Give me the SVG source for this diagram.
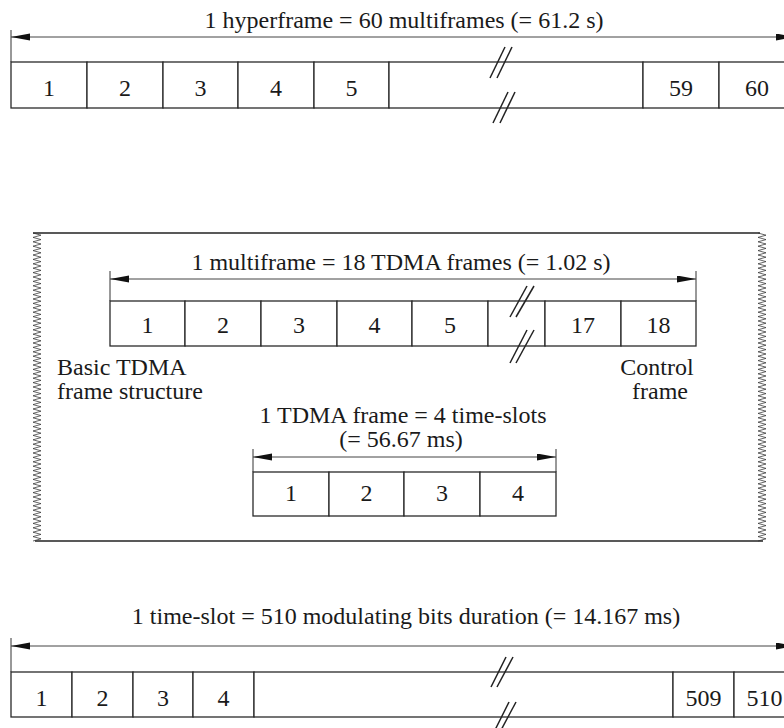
<svg xmlns="http://www.w3.org/2000/svg" width="784" height="728" viewBox="0 0 784 728">
<style>
.t{text-anchor:middle}
.ts{text-anchor:start}
.cell{fill:#fff;stroke:#2a2a2a;stroke-width:1.3}
.dim{stroke:#444;stroke-width:1;fill:none}
.tick{stroke:#333;stroke-width:1}
.brk{stroke:#222;stroke-width:1.5}
.zig{fill:none;stroke:#333;stroke-width:0.75}
.frame{stroke:#222;stroke-width:1.3}
</style>
<defs>
<marker id="ah" markerUnits="userSpaceOnUse" markerWidth="20" markerHeight="8" refX="19" refY="3.5" orient="auto-start-reverse">
<path d="M0,0 L19,3.5 L0,7 z" fill="#111"/>
</marker>
<path id="zz" class="zig" d="M0,0
l8 2.2-8 2.2 8 2.2-8 2.2 8 2.2-8 2.2 8 2.2-8 2.2 8 2.2-8 2.2 8 2.2-8 2.2 8 2.2-8 2.2 8 2.2-8 2.2 8 2.2-8 2.2 8 2.2-8 2.2
8 2.2-8 2.2 8 2.2-8 2.2 8 2.2-8 2.2 8 2.2-8 2.2 8 2.2-8 2.2 8 2.2-8 2.2 8 2.2-8 2.2 8 2.2-8 2.2 8 2.2-8 2.2 8 2.2-8 2.2
8 2.2-8 2.2 8 2.2-8 2.2 8 2.2-8 2.2 8 2.2-8 2.2 8 2.2-8 2.2 8 2.2-8 2.2 8 2.2-8 2.2 8 2.2-8 2.2 8 2.2-8 2.2 8 2.2-8 2.2
8 2.2-8 2.2 8 2.2-8 2.2 8 2.2-8 2.2 8 2.2-8 2.2 8 2.2-8 2.2 8 2.2-8 2.2 8 2.2-8 2.2 8 2.2-8 2.2 8 2.2-8 2.2 8 2.2-8 2.2
8 2.2-8 2.2 8 2.2-8 2.2 8 2.2-8 2.2 8 2.2-8 2.2 8 2.2-8 2.2 8 2.2-8 2.2 8 2.2-8 2.2 8 2.2-8 2.2 8 2.2-8 2.2 8 2.2-8 2.2
8 2.2-8 2.2 8 2.2-8 2.2 8 2.2-8 2.2 8 2.2-8 2.2 8 2.2-8 2.2 8 2.2-8 2.2 8 2.2-8 2.2 8 2.2-8 2.2 8 2.2-8 2.2 8 2.2-8 2.2
8 2.2-8 2.2 8 2.2-8 2.2 8 2.2-8 2.2 8 2.2-8 2.2 8 2.2-8 2.2 8 2.2-8 2.2 8 2.2-8 2.2 8 2.2-8 2.2 8 2.2-8 2.2 8 2.2-8 2.2"/>
</defs>
<rect width="784" height="728" fill="#fff"/>

<g id="multiframe-panel">
<line class="frame" x1="33" y1="233" x2="760" y2="233"/>
<line class="frame" x1="35" y1="541" x2="763" y2="541"/>
<use href="#zz" x="33" y="233"/>
<use href="#zz" x="758" y="233"/>
</g>

<g id="connectors">
<line class="tick" x1="11" y1="30" x2="11" y2="62"/>
<line class="dim" x1="11" y1="37" x2="795" y2="37" marker-start="url(#ah)" marker-end="url(#ah)"/>
<line class="tick" x1="110" y1="271" x2="110" y2="301"/>
<line class="tick" x1="696" y1="271" x2="696" y2="301"/>
<line class="dim" x1="110" y1="279" x2="696" y2="279" marker-start="url(#ah)" marker-end="url(#ah)"/>
<line class="tick" x1="253" y1="449" x2="253" y2="472"/>
<line class="tick" x1="556" y1="449" x2="556" y2="472"/>
<line class="dim" x1="253" y1="457" x2="556" y2="457" marker-start="url(#ah)" marker-end="url(#ah)"/>
<line class="tick" x1="11" y1="638" x2="11" y2="672"/>
<line class="dim" x1="11" y1="646" x2="795" y2="646" marker-start="url(#ah)" marker-end="url(#ah)"/>
</g>

<g font-family="Liberation Serif, Times New Roman, serif" font-size="24" fill="#1a1a1a">
<g id="titles">
<text class="t" x="404" y="28">1 hyperframe = 60 multiframes (= 61.2 s)</text>
<text class="t" x="401" y="270">1 multiframe = 18 TDMA frames (= 1.02 s)</text>
<text class="t" x="403" y="423">1 TDMA frame = 4 time-slots</text>
<text class="t" x="401" y="447">(= 56.67 ms)</text>
<text class="t" x="406" y="624">1 time-slot = 510 modulating bits duration (= 14.167 ms)</text>
<text class="ts" x="57" y="375">Basic TDMA</text>
<text class="ts" x="57" y="399">frame structure</text>
<text class="t" x="657" y="375">Control</text>
<text class="t" x="660" y="399">frame</text>
</g>

<g id="hyperframe">
<g id="hf-1"><rect class="cell" x="11" y="62" width="76" height="46"/><text class="t" x="49" y="96">1</text></g>
<g id="hf-2"><rect class="cell" x="87" y="62" width="76" height="46"/><text class="t" x="125" y="96">2</text></g>
<g id="hf-3"><rect class="cell" x="163" y="62" width="75" height="46"/><text class="t" x="200.5" y="96">3</text></g>
<g id="hf-4"><rect class="cell" x="238" y="62" width="76" height="46"/><text class="t" x="276" y="96">4</text></g>
<g id="hf-5"><rect class="cell" x="314" y="62" width="75" height="46"/><text class="t" x="351.5" y="96">5</text></g>
<g id="hf-gap"><rect class="cell" x="389" y="62" width="254" height="46"/></g>
<g id="hf-59"><rect class="cell" x="643" y="62" width="76" height="46"/><text class="t" x="681" y="96">59</text></g>
<g id="hf-60"><rect class="cell" x="719" y="62" width="76" height="46"/><text class="t" x="757" y="96">60</text></g>
</g>

<g id="multiframe">
<g id="mf-1"><rect class="cell" x="110" y="301" width="75" height="45"/><text class="t" x="147.5" y="333">1</text></g>
<g id="mf-2"><rect class="cell" x="185" y="301" width="76" height="45"/><text class="t" x="223" y="333">2</text></g>
<g id="mf-3"><rect class="cell" x="261" y="301" width="76" height="45"/><text class="t" x="299" y="333">3</text></g>
<g id="mf-4"><rect class="cell" x="337" y="301" width="75" height="45"/><text class="t" x="374.5" y="333">4</text></g>
<g id="mf-5"><rect class="cell" x="412" y="301" width="76" height="45"/><text class="t" x="450" y="333">5</text></g>
<g id="mf-gap"><rect class="cell" x="488" y="301" width="57" height="45"/></g>
<g id="mf-17"><rect class="cell" x="545" y="301" width="76" height="45"/><text class="t" x="583" y="333">17</text></g>
<g id="mf-18"><rect class="cell" x="621" y="301" width="75" height="45"/><text class="t" x="658.5" y="333">18</text></g>
</g>

<g id="tdma-frame">
<g id="tf-1"><rect class="cell" x="253" y="472" width="76" height="44"/><text class="t" x="291" y="501">1</text></g>
<g id="tf-2"><rect class="cell" x="329" y="472" width="75" height="44"/><text class="t" x="366.5" y="501">2</text></g>
<g id="tf-3"><rect class="cell" x="404" y="472" width="76" height="44"/><text class="t" x="442" y="501">3</text></g>
<g id="tf-4"><rect class="cell" x="480" y="472" width="76" height="44"/><text class="t" x="518" y="501">4</text></g>
</g>

<g id="time-slot">
<g id="ts-1"><rect class="cell" x="11" y="672" width="61" height="45"/><text class="t" x="41.5" y="706">1</text></g>
<g id="ts-2"><rect class="cell" x="72" y="672" width="61" height="45"/><text class="t" x="102.5" y="706">2</text></g>
<g id="ts-3"><rect class="cell" x="133" y="672" width="60" height="45"/><text class="t" x="163" y="706">3</text></g>
<g id="ts-4"><rect class="cell" x="193" y="672" width="61" height="45"/><text class="t" x="223.5" y="706">4</text></g>
<g id="ts-gap"><rect class="cell" x="254" y="672" width="419" height="45"/></g>
<g id="ts-509"><rect class="cell" x="673" y="672" width="61" height="45"/><text class="t" x="703.5" y="706">509</text></g>
<g id="ts-510"><rect class="cell" x="734" y="672" width="61" height="45"/><text class="t" x="764.5" y="706">510</text></g>
</g>
</g>

<g id="breaks">
<line class="brk" x1="490" y1="78" x2="505" y2="47"/>
<line class="brk" x1="497" y1="78" x2="512" y2="47"/>
<line class="brk" x1="493" y1="123" x2="508" y2="92"/>
<line class="brk" x1="500" y1="123" x2="515" y2="92"/>
<line class="brk" x1="510" y1="317" x2="527" y2="286"/>
<line class="brk" x1="516" y1="317" x2="534" y2="286"/>
<line class="brk" x1="510" y1="363" x2="527" y2="330"/>
<line class="brk" x1="516" y1="363" x2="534" y2="330"/>
<line class="brk" x1="491" y1="687" x2="506" y2="657"/>
<line class="brk" x1="497" y1="687" x2="513" y2="657"/>
<line class="brk" x1="494" y1="732" x2="509" y2="702"/>
<line class="brk" x1="500" y1="732" x2="516" y2="702"/>
</g>
</svg>
